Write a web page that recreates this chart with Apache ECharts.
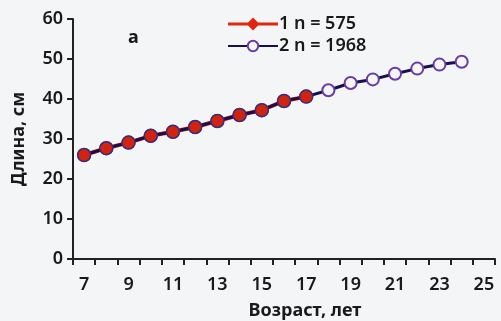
<!DOCTYPE html>
<html>
<head>
<meta charset="utf-8">
<script src="https://cdn.jsdelivr.net/npm/echarts@6/dist/echarts.min.js"></script>
<style>
  html, body { margin: 0; padding: 0; background: #f4f5f7; }
  #chart { width: 501px; height: 321px; }
</style>
</head>
<body>
<div id="chart"></div>
<script>
  const ages = ["7", "8", "9", "10", "11", "12", "13", "14", "15", "16", "17", "18", "19", "20", "21", "22", "23", "24", "25"];
  // series 1: n = 575 (ages 7..17)
  const lengths1 = [26, 27.7, 29.1, 30.8, 31.8, 33, 34.5, 36, 37.2, 39.5, 40.6, null, null, null, null, null, null, null, null];
  // series 2: n = 1968 (ages 7..24)
  const lengths2 = [26, 27.7, 29.1, 30.8, 31.8, 33, 34.5, 36, 37.2, 39.5, 40.6, 42.2, 44, 44.9, 46.3, 47.6, 48.6, 49.3, null];
  const yTicks = { min: 0, max: 60, interval: 10 };

  const chart = echarts.init(document.getElementById("chart"));
  const font = "Noto Sans";
  const ink = "#1a1a1a";

  chart.setOption({
    backgroundColor: "#f4f5f7",
    animation: false,
    grid: { left: 73, right: 6, top: 19, bottom: 62, outerBoundsMode: "none" },
    title: {
      text: "а",
      left: 123,
      top: 24,
      textStyle: { fontFamily: font, fontSize: 18, fontWeight: "bold", color: ink }
    },
    legend: {
      orient: "vertical",
      left: 222,
      top: 10,
      itemGap: 4,
      itemWidth: 50,
      itemHeight: 13,
      textStyle: { fontFamily: font, fontSize: 18, fontWeight: 600, color: ink, padding: [0, 0, 0, -4] },
      data: [
        {
          name: "1 n = 575",
          icon: "path://M0,5 L50,5 L50,8 L0,8 Z M25,0 L31.5,6.5 L25,13 L18.5,6.5 Z",
          itemStyle: { color: "#e0260e", borderWidth: 0 }
        },
        { name: "2 n = 1968" }
      ]
    },
    xAxis: {
      type: "category",
      data: ages,
      boundaryGap: true,
      name: "Возраст, лет",
      nameLocation: "middle",
      nameGap: 43,
      nameTextStyle: { fontFamily: font, fontSize: 18, fontWeight: "bold", color: ink, padding: [0, 0, 0, 42] },
      axisLine: { lineStyle: { color: "#222", width: 2 } },
      axisTick: { show: true, interval: 0, length: 6, lineStyle: { color: "#222", width: 2 } },
      axisLabel: { interval: 1, margin: 17, fontFamily: font, fontSize: 18, fontWeight: 600, color: ink },
      splitLine: { show: false }
    },
    yAxis: {
      type: "value",
      min: yTicks.min,
      max: yTicks.max,
      interval: yTicks.interval,
      name: "Длина, см",
      nameLocation: "middle",
      nameGap: 45,
      nameTextStyle: { fontFamily: font, fontSize: 18, fontWeight: "bold", color: ink },
      axisLine: { show: true, lineStyle: { color: "#222", width: 2 } },
      axisTick: { show: true, length: 6, lineStyle: { color: "#222", width: 2 } },
      axisLabel: { margin: 10, fontFamily: font, fontSize: 18, fontWeight: 600, color: ink },
      splitLine: { show: false }
    },
    series: [
      {
        name: "1 n = 575",
        type: "line",
        data: lengths1,
        z: 2,
        symbol: "none",
        lineStyle: { color: "#e0260e", width: 4 },
        itemStyle: { color: "#e0260e" }
      },
      {
        name: "2 n = 1968",
        type: "line",
        data: lengths2,
        z: 3,
        symbol: "circle",
        symbolSize: 12,
        lineStyle: { color: "#15104a", width: 3 },
        itemStyle: { color: "#f4f5f7", borderColor: "#6a3aa8", borderWidth: 2 }
      },
      {
        name: "1 n = 575",
        type: "scatter",
        data: lengths1,
        z: 4,
        symbol: "circle",
        symbolSize: 13,
        itemStyle: { color: "#d2230f", borderColor: "#3b2b7a", borderWidth: 1.5, opacity: 1 }
      }
    ]
  });
</script>
</body>
</html>
